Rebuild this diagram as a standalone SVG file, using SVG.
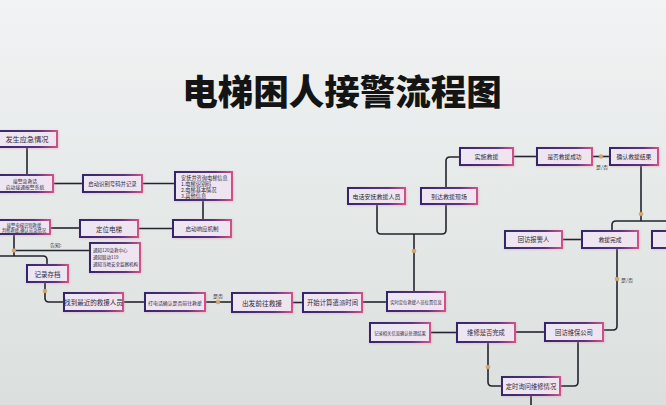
<svg xmlns="http://www.w3.org/2000/svg" width="666" height="405" viewBox="0 0 666 405">
<defs>
<linearGradient id="bg" x1="0" y1="0" x2="0" y2="1">
<stop offset="0" stop-color="#f2f3f4"/>
<stop offset="0.5" stop-color="#e5e9e8"/>
<stop offset="1" stop-color="#dbe0df"/>
</linearGradient>
<linearGradient id="bord" x1="0" y1="0" x2="1" y2="0">
<stop offset="0" stop-color="#33286a"/>
<stop offset="0.7" stop-color="#5a3580"/>
<stop offset="1" stop-color="#cc528a"/>
</linearGradient>
<linearGradient id="fill" x1="0" y1="0" x2="1" y2="1">
<stop offset="0" stop-color="#ece7f3"/>
<stop offset="1" stop-color="#f0e3ee"/>
</linearGradient>
<filter id="glow" x="-20%" y="-40%" width="140%" height="180%">
<feDropShadow dx="0.6" dy="0.6" stdDeviation="1.2" flood-color="#e58aaa" flood-opacity="0.5"/>
</filter>
<style>
.box{fill:url(#fill);stroke:url(#bord);stroke-width:2;filter:url(#glow)}
.t{font-family:"Noto Sans CJK SC","Noto Sans",sans-serif;fill:#2e2a3a;text-anchor:middle;dominant-baseline:central}
.l{font-family:"Noto Sans CJK SC","Noto Sans",sans-serif;fill:#2e2a3a;text-anchor:start;dominant-baseline:central}
.c{fill:none;stroke:#25232e;stroke-width:1.6}
.dot{fill:#d9aa72;stroke:#b88a55;stroke-width:0.4}
.lab{font-family:"Noto Sans CJK SC","Noto Sans",sans-serif;fill:#3a3640;font-size:5px;dominant-baseline:central}
</style>
</defs>
<rect width="666" height="405" fill="url(#bg)"/>
<text x="342" y="89" font-family="'Noto Sans CJK SC','Noto Sans',sans-serif" font-size="35.5" font-weight="900" fill="#141414" text-anchor="middle" dominant-baseline="central">电梯困人接警流程图</text>

<g id="connectors">
<path class="c" d="M27,147 V175"/>
<path class="c" d="M53,183.5 H83"/>
<path class="c" d="M142,183.5 H175"/>
<path class="c" d="M203,200 V220"/>
<path class="c" d="M50,228 H80"/>
<path class="c" d="M138,228.5 H173"/>
<path class="c" d="M14,234 V256"/>
<path class="c" d="M14,250.5 H90"/>
<path class="c" d="M-3,256 H43 Q47,256 47,260 V265"/>
<circle class="dot" cx="14" cy="250.5" r="2"/>
<text class="lab" x="50" y="244">告知:</text>
<path class="c" d="M45,282 V298 Q45,302 49,302 H64"/>
<circle class="dot" cx="45" cy="291" r="2"/>
<path class="c" d="M123,302 H145"/>
<path class="c" d="M205,302 H232"/>
<circle class="dot" cx="218" cy="302" r="2"/>
<text class="lab" x="213" y="295">是否</text>
<path class="c" d="M292,302.5 H303"/>
<path class="c" d="M362,302 H387"/>
<path class="c" d="M414,292 V234"/>
<circle class="dot" cx="414" cy="251" r="2"/>
<path class="c" d="M377,204 V230 Q377,234 381,234 H442 Q446,234 446,230 V204"/>
<path class="c" d="M446,188 V161 Q446,157 450,157 H460"/>
<path class="c" d="M513,156.5 H537"/>
<path class="c" d="M592,156.5 H610"/>
<circle class="dot" cx="601" cy="156.5" r="2"/>
<text class="lab" x="596" y="166">是/否</text>
<path class="c" d="M641,165 V221"/>
<circle class="dot" cx="641" cy="214" r="2"/>
<path class="c" d="M612,231 V225 Q612,221 616,221 H670"/>
<path class="c" d="M562,239.5 H582"/>
<path class="c" d="M617,248 V326 Q617,330 613,330 H603"/>
<circle class="dot" cx="617" cy="279" r="2"/>
<text class="lab" x="621" y="279">是/否</text>
<path class="c" d="M545,332 H515"/>
<path class="c" d="M457,332.5 H430"/>
<path class="c" d="M488,342 V382 Q488,386 492,386 H502"/>
<circle class="dot" cx="488" cy="367" r="2"/>
<path class="c" d="M578,341 V382 Q578,386 574,386 H560"/>
<path class="c" d="M531,395 V410"/>
</g>

<g id="n1"><rect class="box" x="-3" y="131" width="60" height="16"/><text class="t" x="27" y="139" font-size="7.2">发生应急情况</text></g>
<g id="n2"><rect class="box" x="-3" y="175" width="56" height="17"/><text class="t" x="25" y="180" font-size="4.8">接警急救话</text><text class="t" x="25" y="186.5" font-size="4.8">启动接通报警系统</text></g>
<g id="n3"><rect class="box" x="83" y="175" width="59" height="17"/><text class="t" x="112.5" y="183.5" font-size="5.4">启动识别号码并记录</text></g>
<g id="n4"><rect class="box" x="175" y="172" width="57" height="28"/><text class="l" x="181" y="177" font-size="5.2">安抚并咨询电梯信息</text><text class="l" x="181" y="183" font-size="5.2">1.电梯识别码</text><text class="l" x="181" y="189" font-size="5.2">2.电梯基本情况</text><text class="l" x="181" y="195" font-size="5.2">3.其他信息</text></g>
<g id="n5"><rect class="box" x="173" y="220" width="58" height="17"/><text class="t" x="202" y="228.5" font-size="5.5">启动响应机制</text></g>
<g id="n6"><rect class="box" x="-3" y="220" width="53" height="14"/><text class="t" x="24" y="224.5" font-size="4.3">接警电梯识别救援</text><text class="t" x="24" y="229.5" font-size="4.3">判断救援,确认应急情况</text></g>
<g id="n7"><rect class="box" x="80" y="220" width="58" height="17"/><text class="t" x="109" y="228.5" font-size="6.5">定位电梯</text></g>
<g id="n8"><rect class="box" x="90" y="243" width="50" height="29"/><text class="l" x="93" y="250" font-size="4.5">通知120急救中心</text><text class="l" x="93" y="257" font-size="4.5">通知联动119</text><text class="l" x="93" y="264" font-size="4.5">通知当地安全监察机构</text></g>
<g id="n9"><rect class="box" x="27" y="265" width="41" height="17"/><text class="t" x="47.5" y="273.5" font-size="6.5">记录存档</text></g>
<g id="n10"><rect class="box" x="64" y="293" width="59" height="18"/><text class="t" x="93.5" y="302" font-size="6.5">找到最近的救援人员</text></g>
<g id="n11"><rect class="box" x="145" y="293" width="60" height="18"/><text class="t" x="175" y="302" font-size="4.9">打电话确认是否前往救援</text></g>
<g id="n12"><rect class="box" x="232" y="293" width="60" height="19"/><text class="t" x="262" y="302.5" font-size="6.7">出发前往救援</text></g>
<g id="n13"><rect class="box" x="303" y="293" width="59" height="19"/><text class="t" x="332.5" y="302.5" font-size="6.4">开始计算遣派时间</text></g>
<g id="n14"><rect class="box" x="387" y="292" width="58" height="19"/><text class="t" x="416" y="301.5" font-size="4.3">实时定位救援人员位置信息</text></g>
<g id="n15"><rect class="box" x="348" y="188" width="57" height="16"/><text class="t" x="376.5" y="196" font-size="6">电话安抚救援人员</text></g>
<g id="n16"><rect class="box" x="421" y="188" width="56" height="16"/><text class="t" x="449" y="196" font-size="6">到达救援现场</text></g>
<g id="n17"><rect class="box" x="460" y="148" width="53" height="17"/><text class="t" x="486.5" y="156.5" font-size="6">实施救援</text></g>
<g id="n18"><rect class="box" x="537" y="148" width="55" height="17"/><text class="t" x="564.5" y="156.5" font-size="5.7">是否救援成功</text></g>
<g id="n19"><rect class="box" x="610" y="148" width="48" height="17"/><text class="t" x="634" y="156.5" font-size="5.8">确认救援结果</text></g>
<g id="n20"><rect class="box" x="505" y="231" width="57" height="17"/><text class="t" x="533.5" y="239.5" font-size="6.3">回访报警人</text></g>
<g id="n21"><rect class="box" x="582" y="231" width="56" height="17"/><text class="t" x="610" y="239.5" font-size="5.8">救援完成</text></g>
<g id="n22"><rect class="box" x="652" y="231" width="50" height="17"/></g>
<g id="n23"><rect class="box" x="370" y="323" width="60" height="19"/><text class="t" x="400" y="332.5" font-size="4.3">记录相关信息确认处理结果</text></g>
<g id="n24"><rect class="box" x="457" y="323" width="58" height="19"/><text class="t" x="486" y="332.5" font-size="6.3">维修是否完成</text></g>
<g id="n25"><rect class="box" x="545" y="323" width="58" height="18"/><text class="t" x="574" y="332" font-size="6.3">回访维保公司</text></g>
<g id="n26"><rect class="box" x="502" y="377" width="58" height="18"/><text class="t" x="531" y="386" font-size="6.3">定时询问维修情况</text></g>
</svg>
